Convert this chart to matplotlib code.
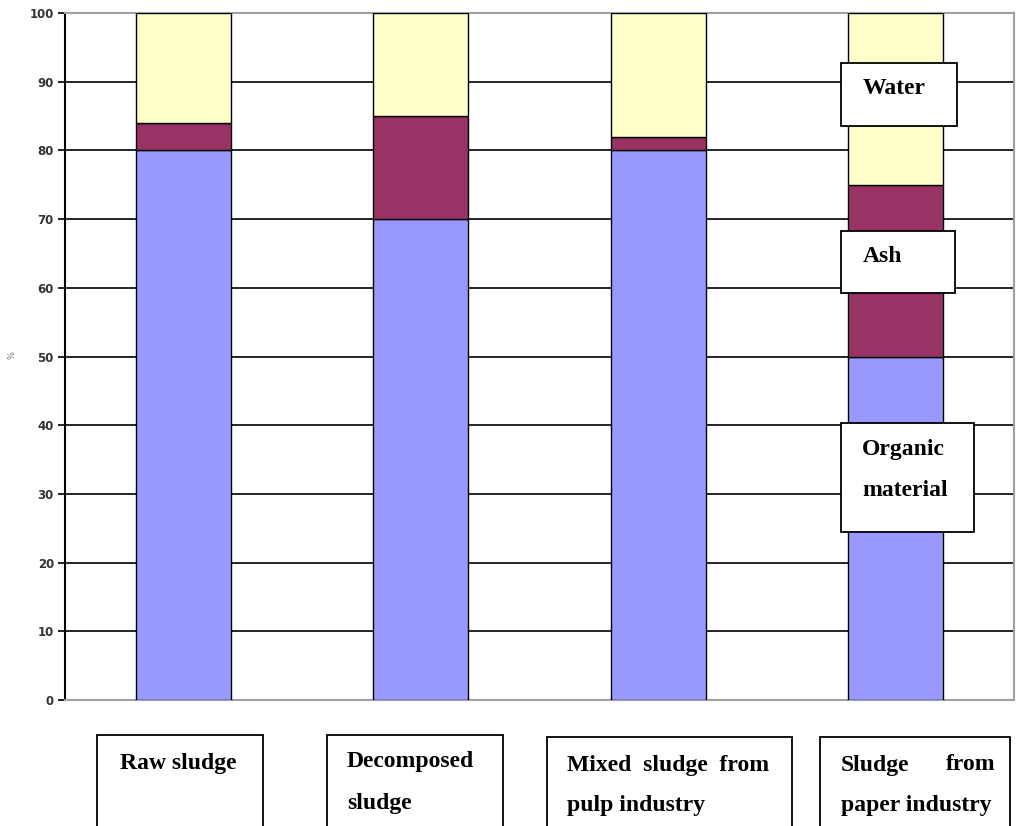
import matplotlib.pyplot as plt
from matplotlib.patches import Rectangle

categories = ["Raw sludge", "Decomposed sludge", "Mixed sludge from pulp industry",
              "Sludge from paper industry"]
organic = [80, 70, 80, 50]
ash = [4, 15, 2, 25]
water = [16, 15, 18, 25]

W, H = 1016, 826
fig = plt.figure(figsize=(W / 100, H / 100), dpi=100)
ax = fig.add_axes([65 / W, 1 - 700 / H, (1014 - 65) / W, (700 - 13) / H])

x = range(len(categories))
bottom2 = [o + a for o, a in zip(organic, ash)]
ax.bar(x, organic, width=0.4, color="#9999FF", edgecolor="black", linewidth=1, zorder=3)
ax.bar(x, ash, width=0.4, bottom=organic, color="#993366", edgecolor="black", linewidth=1, zorder=3)
ax.bar(x, water, width=0.4, bottom=bottom2, color="#FFFFCC", edgecolor="black", linewidth=1, zorder=3)

ax.set_xlim(-0.5, 3.5)
ax.set_ylim(0, 100)
ax.set_yticks(range(0, 101, 10))
ax.set_xticks([])
ax.yaxis.grid(True, color="black", linewidth=1.2, zorder=0)
ax.set_axisbelow(True)
for s in ["top", "right", "bottom"]:
    ax.spines[s].set_color("#A0A0A0")
    ax.spines[s].set_linewidth(1.5)
ax.spines["left"].set_linewidth(1.5)
ax.tick_params(axis="y", length=5, width=1.2, labelsize=8.5, pad=3)
for t in ax.get_yticklabels():
    t.set_fontweight("bold")
    t.set_color("#333333")
fig.text(12 / W, 1 - 355 / H, "%", rotation=90, fontsize=6, color="#777777",
         ha="center", va="center")


def box(x0, y0, x1, y1):
    fig.patches.append(Rectangle((x0 / W, 1 - y1 / H), (x1 - x0) / W, (y1 - y0) / H,
                                 transform=fig.transFigure, facecolor="white",
                                 edgecolor="black", linewidth=1.3, zorder=5))


def label(px, py, s, ha="left"):
    fig.text(px / W, 1 - py / H, s, ha=ha, va="center", fontsize=17,
             fontweight="bold", family="Liberation Serif", zorder=6)


# series labels on the last bar
box(841, 63, 957, 126)
label(863, 88, "Water")
box(841, 231, 955, 293)
label(863, 257, "Ash")
box(841, 423, 974, 532)
label(862, 449, "Organic")
label(862, 491, "material")

# category labels under the plot
box(97, 735, 263, 830)
label(120, 763, "Raw sludge")
box(327, 735, 503, 830)
label(347, 762, "Decomposed")
label(347, 804, "sludge")
box(547, 737, 792, 830)
label(567, 765, "Mixed  sludge  from")
label(567, 806, "pulp industry")
box(820, 737, 1010, 830)
label(841, 765, "Sludge")
label(995, 765, "from", ha="right")
label(841, 806, "paper industry")

fig.savefig("out.png", dpi=100)
